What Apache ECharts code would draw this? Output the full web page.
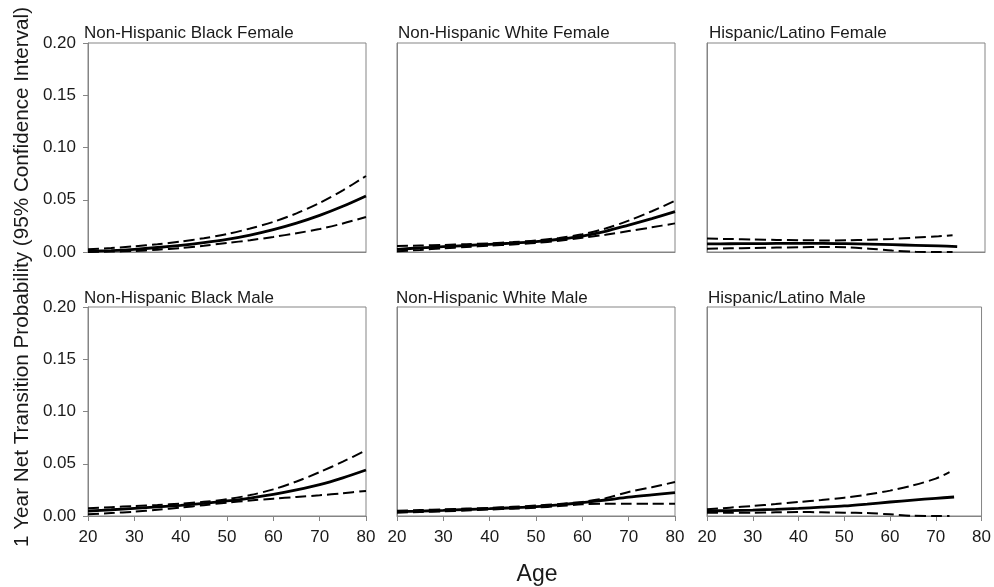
<!DOCTYPE html>
<html><head><meta charset="utf-8">
<script src="https://cdn.jsdelivr.net/npm/echarts@6/dist/echarts.min.js"></script>
<style>html,body{margin:0;padding:0;background:#fff}#c{width:994px;height:587px}</style>
</head><body><div id="c"></div>
<script>
// ---------- data ----------
const panelTitles = ["Non-Hispanic Black Female","Non-Hispanic White Female","Hispanic/Latino Female",
                     "Non-Hispanic Black Male","Non-Hispanic White Male","Hispanic/Latino Male"];
const ages = [20,25,30,35,40,45,50,55,60,65,70,75,80];
const hispSolidAges = [20,25,30,35,40,45,50,55,60,65,70,74];
const hispDashAges  = [20,25,30,35,40,45,50,55,60,65,70,73];

const blackFemaleEst   = [0.0006,0.0014,0.0026,0.0043,0.0064,0.0090,0.0121,0.0162,0.0214,0.0276,0.0350,0.0437,0.0536];
const blackFemaleUpper = [0.0026,0.0038,0.0054,0.0074,0.0100,0.0132,0.0172,0.0225,0.0288,0.0370,0.0470,0.0590,0.0727];
const blackFemaleLower = [0.0000,0.0004,0.0010,0.0022,0.0038,0.0060,0.0086,0.0113,0.0144,0.0180,0.0220,0.0273,0.0335];

const whiteFemaleEst   = [0.0026,0.0039,0.0051,0.0062,0.0073,0.0085,0.0100,0.0122,0.0153,0.0198,0.0258,0.0320,0.0386];
const whiteFemaleUpper = [0.0057,0.0062,0.0067,0.0075,0.0083,0.0095,0.0110,0.0135,0.0170,0.0225,0.0300,0.0390,0.0490];
const whiteFemaleLower = [0.0006,0.0020,0.0035,0.0048,0.0060,0.0072,0.0086,0.0108,0.0137,0.0165,0.0200,0.0236,0.0274];

const hispFemaleEst    = [0.0077,0.0079,0.0080,0.0082,0.0083,0.0083,0.0080,0.0076,0.0070,0.0064,0.0058,0.0052];
const hispFemaleUpper  = [0.0128,0.0124,0.0120,0.0116,0.0113,0.0111,0.0112,0.0117,0.0125,0.0138,0.0150,0.0160];
const hispFemaleLower  = [0.0032,0.0035,0.0038,0.0042,0.0045,0.0048,0.0046,0.0032,0.0014,0.0003,0.0000,0.0000];

const blackMaleEst     = [0.0048,0.0060,0.0073,0.0087,0.0102,0.0121,0.0144,0.0172,0.0207,0.0250,0.0300,0.0365,0.0440];
const blackMaleUpper   = [0.0073,0.0084,0.0096,0.0106,0.0118,0.0136,0.0160,0.0200,0.0255,0.0330,0.0420,0.0520,0.0628];
const blackMaleLower   = [0.0016,0.0028,0.0041,0.0060,0.0080,0.0104,0.0128,0.0148,0.0166,0.0182,0.0198,0.0218,0.0240];

const whiteMaleEst     = [0.0041,0.0047,0.0054,0.0062,0.0070,0.0079,0.0090,0.0107,0.0128,0.0153,0.0180,0.0202,0.0223];
const whiteMaleUpper   = [0.0050,0.0057,0.0064,0.0071,0.0078,0.0088,0.0100,0.0115,0.0135,0.0170,0.0230,0.0275,0.0325];
const whiteMaleLower   = [0.0032,0.0038,0.0045,0.0053,0.0062,0.0070,0.0080,0.0095,0.0112,0.0118,0.0118,0.0118,0.0118];

const hispMaleEst      = [0.0048,0.0052,0.0057,0.0064,0.0073,0.0084,0.0096,0.0114,0.0134,0.0152,0.0169,0.0182];
const hispMaleUpper    = [0.0064,0.0080,0.0096,0.0114,0.0134,0.0153,0.0175,0.0205,0.0243,0.0293,0.0358,0.0420];
const hispMaleLower    = [0.0032,0.0032,0.0032,0.0035,0.0038,0.0036,0.0032,0.0028,0.0016,0.0002,0.0000,0.0000];

const yTicks = [0, 0.05, 0.10, 0.15, 0.20];
const xTicks = [20, 30, 40, 50, 60, 70, 80];

// ---------- layout ----------
const lefts = [88, 397, 707], tops = [43, 307], W = 278, H = 209;
const titleLefts = [[84, 398, 709], [84, 396, 708]], titleTops = [25, 290];
const FONT = "'Liberation Sans', Arial, sans-serif";

const panels = [
  [[ages, blackFemaleEst], [ages, blackFemaleUpper], [ages, blackFemaleLower]],
  [[ages, whiteFemaleEst], [ages, whiteFemaleUpper], [ages, whiteFemaleLower]],
  [[hispSolidAges, hispFemaleEst], [hispDashAges, hispFemaleUpper], [hispDashAges, hispFemaleLower]],
  [[ages, blackMaleEst], [ages, blackMaleUpper], [ages, blackMaleLower]],
  [[ages, whiteMaleEst], [ages, whiteMaleUpper], [ages, whiteMaleLower]],
  [[hispSolidAges, hispMaleEst], [hispDashAges, hispMaleUpper], [hispDashAges, hispMaleLower]]
];

const grid = [], xAxis = [], yAxis = [], title = [], series = [];
for (let i = 0; i < 6; i++) {
  const r = Math.floor(i / 3), c = i % 3;
  grid.push({left: lefts[c], top: tops[r], width: W, height: H, show: true,
             borderColor: '#858585', borderWidth: 1, backgroundColor: '#fff'});
  title.push({text: panelTitles[i], left: titleLefts[r][c], top: titleTops[r], padding: 0,
              textStyle: {fontFamily: FONT, fontSize: 17, fontWeight: 'normal', color: '#1a1a1a'}});
  xAxis.push({type: 'value', gridIndex: i, min: xTicks[0], max: xTicks[xTicks.length-1], interval: 10,
              axisLine: {show: true, lineStyle: {color: '#858585', width: 1}},
              axisTick: {show: r === 1, length: 5, lineStyle: {color: '#858585'}},
              axisLabel: {show: r === 1, fontFamily: FONT, fontSize: 17, color: '#1a1a1a', margin: 13},
              splitLine: {show: false}});
  yAxis.push({type: 'value', gridIndex: i, min: yTicks[0], max: yTicks[yTicks.length-1], interval: 0.05,
              axisLine: {show: true, lineStyle: {color: '#858585', width: 1}},
              axisTick: {show: c === 0, length: 5, lineStyle: {color: '#858585'}},
              axisLabel: {show: c === 0, fontFamily: FONT, fontSize: 17, color: '#1a1a1a', margin: 12,
                          formatter: v => v.toFixed(2)},
              splitLine: {show: false}});
  panels[i].forEach((s, k) => {
    const [xs, ys] = s;
    series.push({
      type: 'line', xAxisIndex: i, yAxisIndex: i, symbol: 'none', silent: true,
      smooth: 0.3, clip: true,
      data: xs.map((x, j) => [x, ys[j]]),
      lineStyle: k === 0 ? {color: '#000', width: 2.8, type: 'solid'}
                         : {color: '#000', width: 2, type: [11, 5]},
      z: k === 0 ? 3 : 2
    });
  });
}

const chart = echarts.init(document.getElementById('c'), null, {renderer: 'canvas'});
chart.setOption({
  animation: false,
  backgroundColor: '#fff',
  title, grid, xAxis, yAxis, series,
  graphic: [
    {type: 'text', x: 22, y: 277, rotation: Math.PI / 2,
     style: {text: '1 Year Net Transition Probability (95% Confidence Interval)', fontFamily: FONT,
             fontSize: 20.7, fill: '#1a1a1a', align: 'center', verticalAlign: 'middle'}},
    {type: 'text', x: 537, y: 575,
     style: {text: 'Age', fontFamily: FONT, fontSize: 23, fill: '#1a1a1a', align: 'center', verticalAlign: 'middle'}}
  ]
});
</script></body></html>
